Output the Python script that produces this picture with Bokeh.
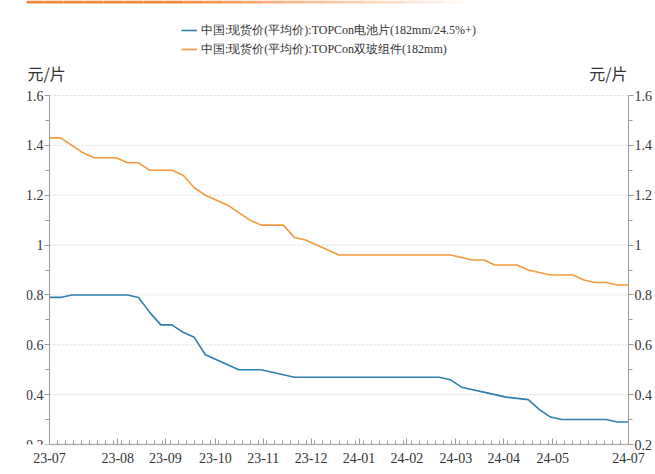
import numpy as np
from bokeh.plotting import figure
from bokeh.models import (LinearAxis, Range1d, FixedTicker, Legend, LegendItem,
                          NumeralTickFormatter, Label)
from bokeh.embed import file_html
from bokeh.resources import INLINE

# ---- data (weekly observations, 2023-07 .. 2024-07) ----
cell_price = [0.79, 0.79, 0.80, 0.80, 0.80, 0.80, 0.80, 0.80, 0.79, 0.73,
              0.68, 0.68, 0.65, 0.63, 0.56, 0.54, 0.52, 0.50, 0.50, 0.50,
              0.49, 0.48, 0.47,
              0.47, 0.47, 0.47, 0.47, 0.47, 0.47, 0.47, 0.47, 0.47, 0.47,
              0.47, 0.47, 0.47,
              0.46, 0.43, 0.42, 0.41, 0.40, 0.39, 0.385, 0.38, 0.34, 0.31,
              0.30, 0.30, 0.30, 0.30, 0.30, 0.29, 0.29]
module_price = [1.43, 1.43, 1.40, 1.37, 1.35, 1.35, 1.35, 1.33, 1.33, 1.30,
                1.30, 1.30, 1.28, 1.23, 1.20, 1.18, 1.16, 1.13, 1.10, 1.08,
                1.08, 1.08, 1.03, 1.02, 1.00, 0.98, 0.96,
                0.96, 0.96, 0.96, 0.96, 0.96, 0.96, 0.96, 0.96, 0.96, 0.96,
                0.95, 0.94, 0.94, 0.92, 0.92, 0.92, 0.90, 0.89, 0.88, 0.88,
                0.88, 0.86, 0.85, 0.85, 0.84, 0.84]
series_names = ["中国:现货价(平均价):TOPCon电池片(182mm/24.5%+)",
                "中国:现货价(平均价):TOPCon双玻组件(182mm)"]
x_tick_labels = ["23-07", "23-08", "23-09", "23-10", "23-11", "23-12",
                 "24-01", "24-02", "24-03", "24-04", "24-05", "24-07"]
y_ticks = [0.2, 0.4, 0.6, 0.8, 1.0, 1.2, 1.4, 1.6]
unit_label = "元/片"

# ---- layout ----
x_tick_pos = [0, 6.13, 10.4, 14.9, 19.2, 23.5, 27.8, 32.1, 36.5, 40.8, 45.2, 52]
weeks = list(range(len(cell_price)))
xmax = weeks[-1]
ymin, ymax = y_ticks[0], y_ticks[-1]

W, H = 655, 474
BORDER_L, BORDER_R, BORDER_T, BORDER_B = 26, 27, 0, 30
AXIS_LEFT_PX, AXIS_BOTTOM_PX, AXIS_TOP_PX = 49, 444, 95
px_per_x = (W - BORDER_R - AXIS_LEFT_PX) / xmax
px_per_y = (AXIS_BOTTOM_PX - AXIS_TOP_PX) / (ymax - ymin)
x_start = -(AXIS_LEFT_PX - BORDER_L) / px_per_x
y_end = ymin + (AXIS_BOTTOM_PX - BORDER_T) / px_per_y

BLUE = "#2f7fad"
ORANGE = "#f39a3c"
SERIF = "Liberation Serif"
CJK = "Noto Sans CJK SC"
AXIS_GRAY = "#9a9a9a"

p = figure(width=W, height=H, output_backend="svg", toolbar_location=None,
           x_range=Range1d(x_start, xmax), y_range=Range1d(ymin, y_end),
           min_border_left=BORDER_L, min_border_right=BORDER_R,
           min_border_top=BORDER_T, min_border_bottom=BORDER_B)
p.outline_line_color = None
p.background_fill_color = "white"
p.xgrid.visible = False
p.ygrid.visible = False

# decorative orange header strip fading to white (top edge of the page)
n_strip = 24
strip_l = [x_start + (3 - BORDER_L + i * 20) / px_per_x for i in range(n_strip)]
strip_r = [x_start + (3 - BORDER_L + (i + 1) * 20) / px_per_x for i in range(n_strip)]
strip_alpha = [1.0 if i < 9 else max(0.0, 1.0 - (i - 8) / 15) for i in range(n_strip)]
p.quad(left=strip_l, right=strip_r, top=[y_end] * n_strip,
       bottom=[y_end - 3 / px_per_y] * n_strip,
       fill_color="#f0883a", fill_alpha=strip_alpha, line_alpha=0)

# dashed horizontal grid lines between the two value axes
grid_y = y_ticks[1:]
p.segment(x0=[0] * len(grid_y), x1=[xmax] * len(grid_y), y0=grid_y, y1=grid_y,
          line_color="#d9d9d9", line_width=1, line_dash="2 2")

r1 = p.line(weeks, cell_price, line_color=BLUE, line_width=1.6)
r2 = p.line(weeks, module_price, line_color=ORANGE, line_width=1.6)

yticker = FixedTicker(ticks=y_ticks,
                      minor_ticks=[0.3, 0.5, 0.7, 0.9, 1.1, 1.3, 1.5])

def style_y(ax):
    ax.ticker = yticker
    ax.bounds = (ymin, ymax)
    ax.formatter = NumeralTickFormatter(format="0.[0]")
    ax.axis_line_color = AXIS_GRAY
    ax.major_tick_line_color = AXIS_GRAY
    ax.minor_tick_line_color = AXIS_GRAY
    ax.major_tick_in = 0
    ax.major_tick_out = 5
    ax.minor_tick_in = 0
    ax.minor_tick_out = 4
    ax.major_label_text_font = SERIF
    ax.major_label_text_font_size = "14px"
    ax.major_label_text_color = "#333333"
    ax.major_label_standoff = 1

left = p.yaxis[0]
style_y(left)
left.fixed_location = 0
right = LinearAxis()
style_y(right)
p.add_layout(right, "right")

xa = p.xaxis[0]
xa.bounds = (0, xmax)
xa.ticker = FixedTicker(ticks=x_tick_pos,
                        minor_ticks=list(np.linspace(0, xmax, 73)))
xa.major_label_overrides = {pos: lab for pos, lab in zip(x_tick_pos, x_tick_labels)}
xa.axis_line_color = "#b5b5b5"
xa.axis_line_width = 1.5
xa.major_tick_line_color = AXIS_GRAY
xa.minor_tick_line_color = AXIS_GRAY
xa.major_tick_in = 6
xa.major_tick_out = 0
xa.minor_tick_in = 4
xa.minor_tick_out = 0
xa.major_label_text_font = SERIF
xa.major_label_text_font_size = "14px"
xa.major_label_text_color = "#333333"
xa.major_label_standoff = 8

legend = Legend(items=[LegendItem(label=series_names[0], renderers=[r1]),
                       LegendItem(label=series_names[1], renderers=[r2])],
                location=(181 - BORDER_L, AXIS_BOTTOM_PX - 58),
                orientation="vertical",
                padding=0, margin=0, spacing=1,
                glyph_width=16, glyph_height=18, label_height=18,
                label_standoff=4,
                label_text_font=SERIF, label_text_font_size="12px",
                label_text_color="#333333",
                border_line_alpha=0, background_fill_alpha=0)
p.add_layout(legend, "center")

p.add_layout(Label(x=0, y=ymax, x_offset=-22, y_offset=23, text=unit_label,
                   text_font=CJK, text_font_size="16px", text_color="#333333",
                   text_align="left", text_baseline="middle"))
p.add_layout(Label(x=xmax, y=ymax, x_offset=-1, y_offset=23, text=unit_label,
                   text_font=CJK, text_font_size="16px", text_color="#333333",
                   text_align="right", text_baseline="middle"))

open("out.html", "w").write(file_html(p, INLINE))
